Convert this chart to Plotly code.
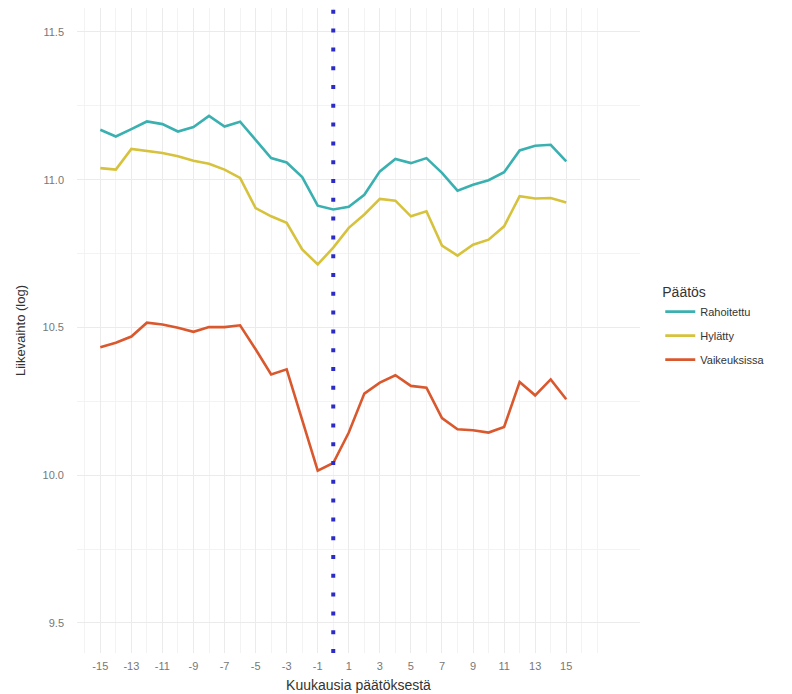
import plotly.graph_objects as go

months = list(range(-15, 16))

rahoitettu = [11.169, 11.146, 11.171, 11.197, 11.188, 11.163, 11.178, 11.216, 11.180, 11.196,
              11.135, 11.073, 11.058, 11.009, 10.912, 10.899, 10.908, 10.949, 11.028, 11.070,
              11.056, 11.073, 11.023, 10.963, 10.983, 10.998, 11.025, 11.099, 11.115, 11.118, 11.062]

hylatty = [11.039, 11.034, 11.104, 11.096, 11.090, 11.079, 11.064, 11.054, 11.034, 11.006,
           10.904, 10.876, 10.854, 10.764, 10.713, 10.770, 10.837, 10.882, 10.935, 10.929,
           10.876, 10.893, 10.777, 10.743, 10.780, 10.797, 10.842, 10.944, 10.936, 10.938, 10.923]

vaikeuksissa = [10.433, 10.448, 10.469, 10.516, 10.510, 10.499, 10.485, 10.501, 10.501, 10.507,
                10.426, 10.341, 10.358, 10.183, 10.015, 10.041, 10.144, 10.276, 10.313, 10.338,
                10.302, 10.296, 10.193, 10.155, 10.152, 10.144, 10.163, 10.315, 10.270, 10.324, 10.257]

series_names = ["Rahoitettu", "Hylätty", "Vaikeuksissa"]
series_colors = ["#3BB0B0", "#D6C23C", "#D9582D"]

x_tick_vals = list(range(-15, 16, 2))
x_tick_text = [str(v) for v in x_tick_vals]
y_tick_vals = [9.5, 10.0, 10.5, 11.0, 11.5]
y_tick_text = ["9.5", "10.0", "10.5", "11.0", "11.5"]

decision_month = 0

fig = go.Figure()
for name, vals, col in zip(series_names, [rahoitettu, hylatty, vaikeuksissa], series_colors):
    fig.add_trace(go.Scatter(x=months, y=vals, mode="lines", name=name, legendgroup=name,
                             line=dict(color=col, width=2.6)))

fig.add_vline(x=decision_month, line=dict(color="#2B2BC8", width=4, dash="4px,14.8px"))

font_family = "Liberation Sans, Arial, sans-serif"
fig.update_layout(
    width=784, height=686,
    paper_bgcolor="white", plot_bgcolor="white",
    margin=dict(l=69, r=152, t=0, b=41),
    font=dict(family=font_family, color="#4d4d4d"),
    legend=dict(
        title=dict(text="Päätös", font=dict(size=14, color="#333333")),
        x=1.036, xanchor="left", y=0.58, yanchor="top",
        font=dict(size=11, color="#333333"),
        tracegroupgap=5, itemwidth=30,
    ),
    xaxis=dict(
        range=[-16.5, 19.75],
        tickvals=x_tick_vals, ticktext=x_tick_text,
        tickfont=dict(size=11, color="#777777"),
        ticklabelstandoff=5,
        showgrid=True, gridcolor="#ebebeb", gridwidth=1.2,
        minor=dict(tickvals=list(range(-16, 18, 2)) + [17], showgrid=True, gridcolor="#f3f3f3", gridwidth=0.8),
        zeroline=False, showline=False, ticks="",
        title=dict(text="Kuukausia päätöksestä", font=dict(size=14, color="#333333"), standoff=9),
    ),
    yaxis=dict(
        range=[9.398, 11.581],
        tickvals=y_tick_vals, ticktext=y_tick_text,
        tickfont=dict(size=11, color="#777777"),
        ticklabelstandoff=12,
        showgrid=True, gridcolor="#ebebeb", gridwidth=1.2,
        minor=dict(tickvals=[9.75, 10.25, 10.75, 11.25], showgrid=True, gridcolor="#f3f3f3", gridwidth=0.8),
        zeroline=False, showline=False, ticks="",
        title=dict(text="Liikevaihto (log)", font=dict(size=13, color="#333333"), standoff=14),
    ),
)

fig.write_html("out.html")
